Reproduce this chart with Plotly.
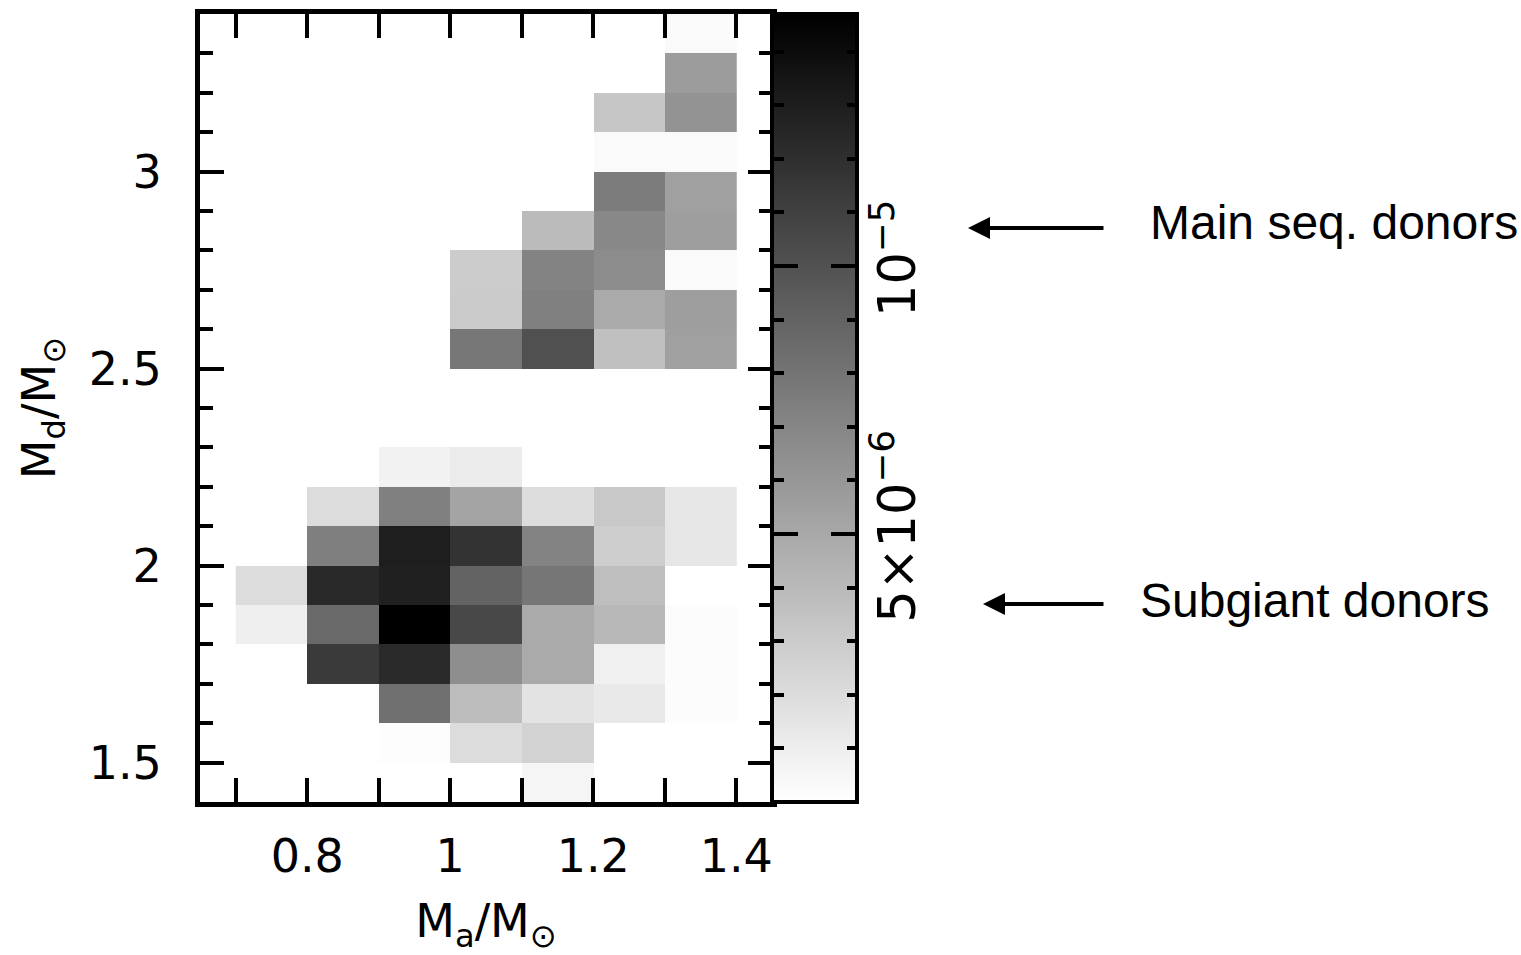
import plotly.graph_objects as go

# ---- data (values in units of 1e-6) ----
x_centers = [0.75, 0.85, 0.95, 1.05, 1.15, 1.25, 1.35]
y_centers = [1.45, 1.55, 1.65, 1.75, 1.85, 1.95, 2.05, 2.15, 2.25, 2.35,
             2.45, 2.55, 2.65, 2.75, 2.85, 2.95, 3.05, 3.15, 3.25, 3.35]
N = None
row_145 = [N, N, N, N, 0.58, N, N]
row_155 = [N, N, 0.12, 2.02, 2.59, N, N]
row_165 = [N, N, 8.24, 3.80, 1.61, 1.27, 0.17]
row_175 = [N, 11.36, 12.28, 6.51, 4.90, 0.86, 0.17]
row_185 = [0.92, 8.65, 14.70, 10.55, 4.90, 4.09, 0.17]
row_195 = [2.00, 12.34, 12.86, 8.99, 7.90, 3.75, N]
row_205 = [N, 7.38, 12.97, 11.76, 7.15, 2.88, 1.44]
row_215 = [N, 2.02, 7.32, 5.25, 1.96, 3.17, 1.44]
row_225 = [N, N, 0.75, 1.15, N, N, N]
row_235 = [N, N, N, N, N, N, N]
row_245 = [N, N, N, N, N, N, N]
row_255 = [N, N, N, 7.84, 10.09, 3.63, 5.48]
row_265 = [N, N, N, 3.00, 7.32, 4.90, 5.59]
row_275 = [N, N, N, 2.94, 7.15, 6.63, 0.29]
row_285 = [N, N, N, N, 3.92, 6.86, 5.59]
row_295 = [N, N, N, N, N, 7.55, 5.48]
row_305 = [N, N, N, N, N, 0.29, 0.29]
row_315 = [N, N, N, N, N, 3.29, 6.23]
row_325 = [N, N, N, N, N, N, 5.71]
row_335 = [N, N, N, N, N, N, 0.29]
rows = [row_145, row_155, row_165, row_175, row_185, row_195, row_205, row_215,
        row_225, row_235, row_245, row_255, row_265, row_275, row_285, row_295,
        row_305, row_315, row_325, row_335]
unit = 1e-6
z = [[(v * unit if v is not None else None) for v in r] for r in rows]

cmin, cmax = 0.0, 14.7e-6
cbar_major_vals = [5e-6, 1e-5]
cbar_major_text = ["5×10<sup>−6</sup>", "10<sup>−5</sup>"]
cbar_minor_vals = [1e-6, 2e-6, 3e-6, 4e-6, 6e-6, 7e-6, 8e-6, 9e-6,
                   1.1e-5, 1.2e-5, 1.3e-5, 1.4e-5]

# ---- layout geometry ----
W, Hh = 1521, 955
ml, mr, mt, mb = 200, 0, 14, 153
PW = W - ml - mr
PH = Hh - mt - mb
def px2x(p):
    return (p - ml) / PW
def py2y(p):
    return 1 - (p - mt) / PH

x_right = px2x(772)
cb_right = px2x(857)

axfont = dict(family="DejaVu Sans", size=46, color="black")
cbfont = dict(family="DejaVu Sans", size=51, color="black")
gray = [[0, "white"], [1, "black"]]
clear = [[0, "rgba(0,0,0,0)"], [1, "rgba(0,0,0,0)"]]

def cbar(x, thick, ticks, vals, tlen, outline):
    return dict(thickness=thick, thicknessmode="pixels", len=1, lenmode="fraction",
                x=x, xanchor="left", y=0.5, yanchor="middle", xpad=0, ypad=0,
                outlinewidth=outline, outlinecolor="black",
                tickmode="array", tickvals=vals, ticks=ticks, ticklen=tlen,
                tickwidth=4, tickcolor="black", showticklabels=False)

fig = go.Figure()
# the real map + gradient colour bar (minor ticks on its right edge)
fig.add_trace(go.Heatmap(
    x=x_centers, y=y_centers, z=z, colorscale=gray, zmin=cmin, zmax=cmax,
    zsmooth=False, hoverongaps=False,
    colorbar=cbar(x_right, 85, "inside", cbar_minor_vals, 12, 4)))
# transparent copies only used to draw the remaining colour-bar ticks
for x, thick, ticks, vals, tlen in [
        (x_right, 85, "inside", cbar_major_vals, 26),
        (px2x(770), 2, "outside", cbar_minor_vals, 12),
        (px2x(770), 2, "outside", cbar_major_vals, 26)]:
    fig.add_trace(go.Heatmap(
        x=x_centers, y=y_centers, z=z, colorscale=clear, zmin=cmin, zmax=cmax,
        zsmooth=False, hoverinfo="skip",
        colorbar=cbar(x, thick, ticks, vals, tlen, 0)))
fig.add_trace(go.Scatter(x=[None], y=[None], yaxis="y3", showlegend=False, hoverinfo="skip"))

common = dict(showline=True, linewidth=5, linecolor="black", mirror="allticks",
              ticks="inside", ticklen=24, tickwidth=4, tickcolor="black",
              showgrid=False, zeroline=False, tickfont=axfont, automargin=False)
minor = dict(tick0=0, dtick=0.1, ticklen=13, tickwidth=4, ticks="inside", tickcolor="black")

fig.update_layout(
    width=W, height=Hh,
    margin=dict(l=ml, r=mr, t=mt, b=mb, pad=0),
    paper_bgcolor="white", plot_bgcolor="white",
    showlegend=False,
    xaxis=dict(domain=[0, x_right], range=[0.65, 1.45], tick0=0, dtick=0.2,
               minor=minor, ticklabelstandoff=10,
               title=dict(text="M<sub>a</sub>/M<sub>⊙</sub>", font=axfont, standoff=28),
               **common),
    yaxis=dict(range=[1.4, 3.4], tick0=0, dtick=0.5,
               minor=minor, ticklabelstandoff=24,
               title=dict(text="M<sub>d</sub>/M<sub>⊙</sub>", font=axfont, standoff=20),
               **common),
    yaxis3=dict(overlaying="y", anchor="free", position=cb_right, side="right",
                range=[cmin, cmax], showline=False, showgrid=False, zeroline=False,
                tickmode="array", tickvals=cbar_major_vals, ticktext=cbar_major_text,
                ticks="", tickangle=-90, tickfont=cbfont, ticklabelstandoff=6,
                automargin=False),
)

txtfont = dict(family="Liberation Sans, Arial", size=48, color="black")
fig.add_annotation(xref="paper", yref="paper", x=px2x(968), y=py2y(228),
                   ax=137, ay=0, axref="pixel", ayref="pixel", text="",
                   showarrow=True, arrowhead=2, arrowsize=1.1, arrowwidth=4, arrowcolor="black")
fig.add_annotation(xref="paper", yref="paper", x=px2x(983), y=py2y(604),
                   ax=122, ay=0, axref="pixel", ayref="pixel", text="",
                   showarrow=True, arrowhead=2, arrowsize=1.1, arrowwidth=4, arrowcolor="black")
fig.add_annotation(xref="paper", yref="paper", x=px2x(1148), y=py2y(222),
                   xanchor="left", yanchor="middle", text="Main seq. donors",
                   showarrow=False, font=txtfont)
fig.add_annotation(xref="paper", yref="paper", x=px2x(1138), y=py2y(600),
                   xanchor="left", yanchor="middle", text="Subgiant donors",
                   showarrow=False, font=txtfont)

fig.write_html("out.html")
